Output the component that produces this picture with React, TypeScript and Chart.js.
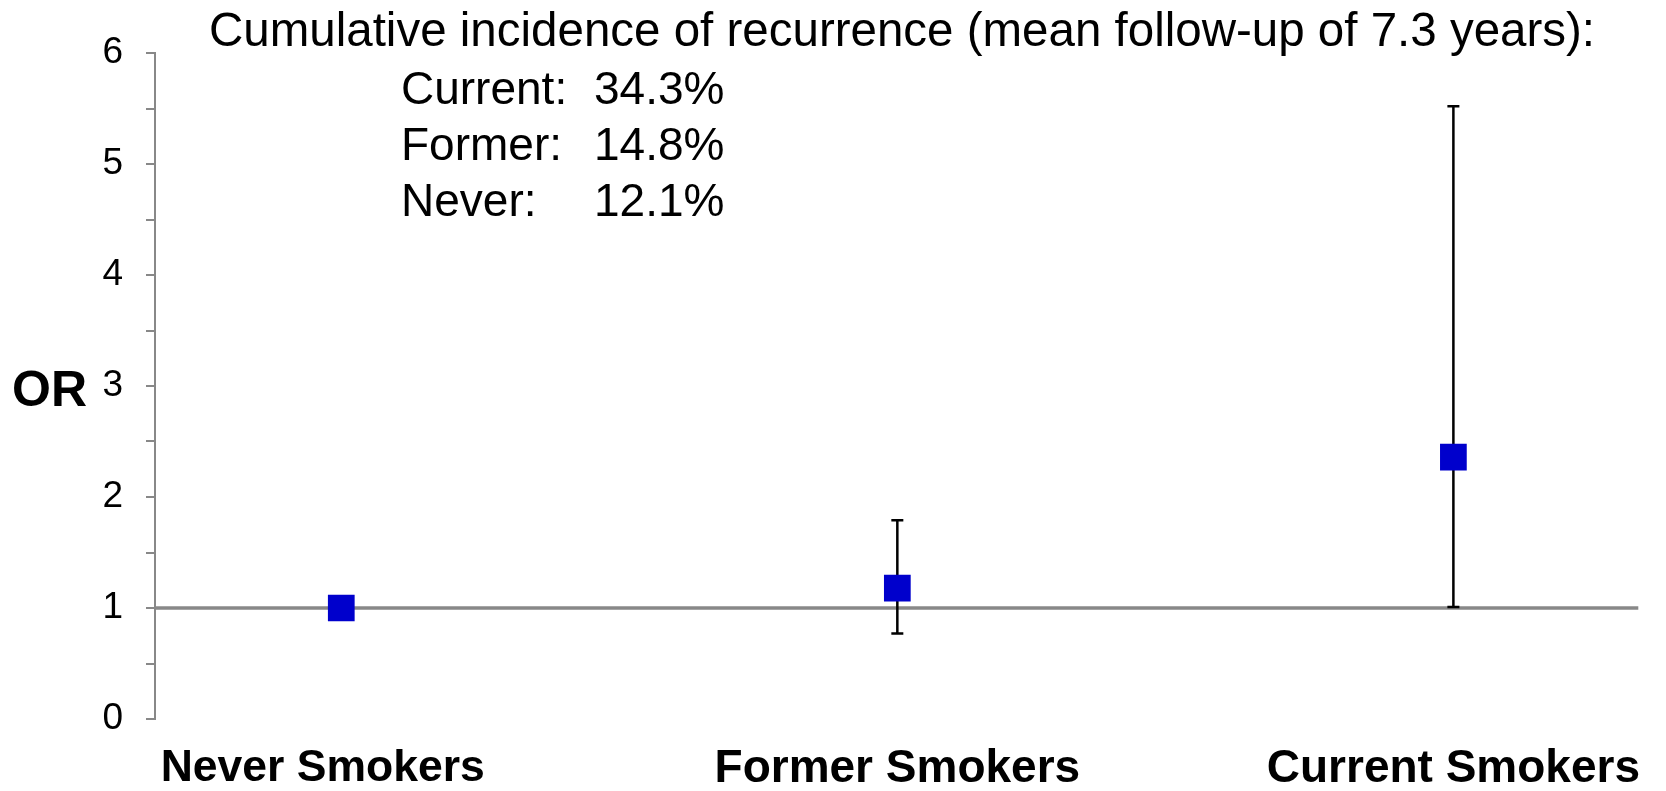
import React, { useEffect, useRef } from 'react';
import { Chart, registerables } from 'chart.js';

Chart.register(...registerables);

const FONT = '"Liberation Sans", Arial, Helvetica, sans-serif';

// Data
const categories = ['Never Smokers', 'Former Smokers', 'Current Smokers'];
const positions = [0, 1, 2];
const oddsRatios = [1.0, 1.18, 2.36];
const ciLower: (number | null)[] = [null, 0.77, 1.01];
const ciUpper: (number | null)[] = [null, 1.79, 5.52];
const referenceValue = 1;
const yMin = 0;
const yMax = 6;
const yStep = 0.5;
const xMin = -0.335;
const xMax = 2.333;

const titleText = 'Cumulative incidence of recurrence (mean follow-up of 7.3 years):';
const incidenceLabels = ['Current:', 'Former:', 'Never:'];
const incidenceValues = ['34.3%', '14.8%', '12.1%'];
const yAxisTitle = 'OR';

const errorBarPlugin = {
  id: 'errorBars',
  afterDatasetDraw(chart: any, args: any) {
    if (args.index !== 0) return;
    const { ctx, scales } = chart;
    const xs = scales.x;
    const ys = scales.y;
    ctx.save();
    ctx.strokeStyle = '#000000';
    ctx.lineWidth = 2.5;
    const cap = 6;
    positions.forEach((p, i) => {
      const lo = ciLower[i];
      const hi = ciUpper[i];
      if (lo == null || hi == null) return;
      const x = xs.getPixelForValue(p);
      const yl = ys.getPixelForValue(lo);
      const yh = ys.getPixelForValue(hi);
      ctx.beginPath();
      ctx.moveTo(x, yl);
      ctx.lineTo(x, yh);
      ctx.moveTo(x - cap, yl);
      ctx.lineTo(x + cap, yl);
      ctx.moveTo(x - cap, yh);
      ctx.lineTo(x + cap, yh);
      ctx.stroke();
    });
    ctx.restore();
  },
};

const textPlugin = {
  id: 'annotText',
  afterDraw(chart: any) {
    const { ctx } = chart;
    ctx.save();
    ctx.fillStyle = '#000000';
    ctx.textBaseline = 'alphabetic';
    ctx.textAlign = 'left';
    ctx.font = `47.5px ${FONT}`;
    ctx.fillText(titleText, 209, 46);
    ctx.font = `46px ${FONT}`;
    const baselines = [104, 160, 216];
    incidenceLabels.forEach((lab, i) => {
      ctx.fillText(lab, 401, baselines[i]);
      ctx.fillText(incidenceValues[i], 594, baselines[i]);
    });
    ctx.font = `bold 50px ${FONT}`;
    ctx.fillText(yAxisTitle, 12, 406);
    ctx.restore();
  },
};

export default function App() {
  const canvasRef = useRef<HTMLCanvasElement | null>(null);

  useEffect(() => {
    if (!canvasRef.current) return;
    const chart = new Chart(canvasRef.current, {
      type: 'scatter',
      data: {
        datasets: [
          {
            type: 'line',
            data: [
              { x: xMin, y: referenceValue },
              { x: xMax, y: referenceValue },
            ],
            borderColor: '#888888',
            borderWidth: 3.5,
            pointRadius: 0,
            fill: false,
            order: 2,
          } as any,
          {
            type: 'scatter',
            data: positions.map((p, i) => ({ x: p, y: oddsRatios[i] })),
            pointStyle: 'rect',
            pointRadius: 18.9,
            pointHoverRadius: 18.9,
            backgroundColor: '#0000CC',
            borderWidth: 0,
            order: 1,
          } as any,
        ],
      },
      options: {
        animation: false,
        responsive: true,
        maintainAspectRatio: false,
        layout: { padding: { top: 53, right: 24, left: 0, bottom: 0 } },
        plugins: { legend: { display: false }, tooltip: { enabled: false } },
        scales: {
          x: {
            type: 'linear',
            min: xMin,
            max: xMax,
            afterBuildTicks: (s: any) => {
              s.ticks = positions.map((v) => ({ value: v }));
            },
            afterFit: (s: any) => {
              s.height = 72;
            },
            ticks: {
              autoSkip: false,
              maxRotation: 0,
              padding: 23,
              color: '#000000',
              font: (c: any) => ({
                family: FONT,
                size: c.index === 0 ? 44.5 : 46,
                weight: 'bold',
              }),
              callback: (v: any) => {
                const idx = positions.indexOf(Number(v));
                if (idx < 0) return '';
                return idx === 0 ? categories[idx] + '\u00A0\u00A0\u00A0' : categories[idx];
              },
            },
            grid: { display: false, drawTicks: false },
            border: { display: false },
          },
          y: {
            min: yMin,
            max: yMax,
            afterFit: (s: any) => {
              s.width = 155;
            },
            ticks: {
              stepSize: yStep,
              padding: 23,
              color: '#000000',
              font: { family: FONT, size: 37 },
              callback: (v: any) => (Number.isInteger(Number(v)) ? String(v) : ''),
            },
            grid: { drawOnChartArea: false, color: '#888888', tickLength: 9, lineWidth: 2 },
            border: { display: true, color: '#888888', width: 2 },
          },
        },
      } as any,
      plugins: [errorBarPlugin, textPlugin],
    });
    return () => chart.destroy();
  }, []);

  return (
    <div style={{ position: 'absolute', left: 0, top: 0, width: 1666, height: 791, background: '#ffffff' }}>
      <canvas ref={canvasRef} />
    </div>
  );
}
